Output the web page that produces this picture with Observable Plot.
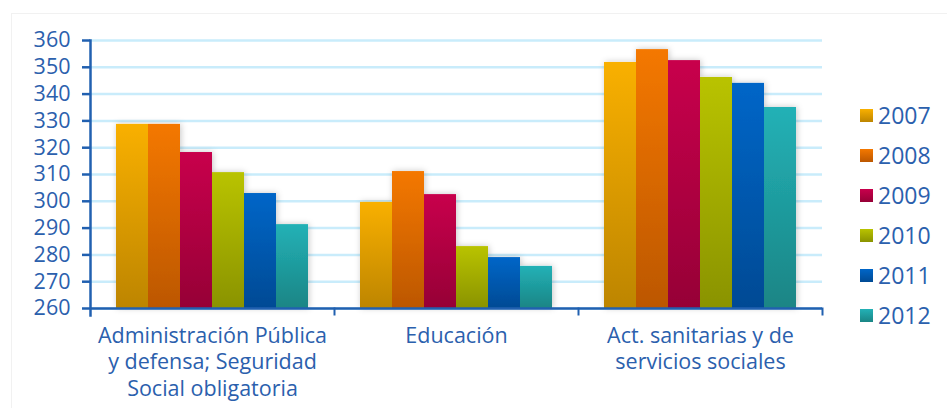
<!DOCTYPE html>
<html>
<head>
<meta charset="utf-8">
<script src="https://cdn.jsdelivr.net/npm/d3@7"></script>
<script src="https://cdn.jsdelivr.net/npm/@observablehq/plot@0.6"></script>
<style>
  html, body { margin: 0; padding: 0; background: #fff; }
  #wrap { position: relative; width: 947px; height: 408px; overflow: hidden; font-family: 'Open Sans', sans-serif; }
  #panel { position: absolute; left: 11px; top: 13px; width: 960px; height: 420px; border-left: 1px solid #f1f1f1; border-top: 1px solid #f1f1f1; }
  #chart { position: absolute; left: 0; top: 0; }
  #legend { position: absolute; left: 860px; top: 95px; }
  .item { height: 40px; display: flex; align-items: center; font-size: 23px; color: #2b60ad; }
  .sw { width: 13px; height: 13px; margin-right: 5px; }
</style>
</head>
<body>
<div id="wrap">
  <div id="panel"></div>
  <div id="chart"></div>
  <div id="legend"></div>
</div>
<script>
const categories = [
  "Administración Pública\ny defensa; Seguridad\nSocial obligatoria",
  "Educación",
  "Act. sanitarias y de\nservicios sociales"
];
const years = ["2007", "2008", "2009", "2010", "2011", "2012"];
const values2007 = [328.7, 299.6, 351.8];
const values2008 = [328.7, 311.1, 356.6];
const values2009 = [318.2, 302.5, 352.5];
const values2010 = [310.7, 283.1, 346.2];
const values2011 = [302.9, 279.0, 344.0];
const values2012 = [291.3, 275.7, 335.0];
const yTicks = [260, 270, 280, 290, 300, 310, 320, 330, 340, 350, 360];

const colorsTop = ["#f9b000", "#f47800", "#c8004c", "#b9c300", "#0066c8", "#23b1b6"];
const colorsBottom = ["#bd8500", "#bc5700", "#960036", "#8a9300", "#004a94", "#1a8585"];

const series = [values2007, values2008, values2009, values2010, values2011, values2012];
const data = [];
categories.forEach((c, ci) => {
  years.forEach((y, yi) => data.push({category: c, year: y, value: series[yi][ci]}));
});

const axisColor = "#2160b0";
const textColor = "#2b60ad";

const chart = Plot.plot({
  width: 947,
  height: 408,
  marginLeft: 89,
  marginRight: 125,
  marginTop: 40,
  marginBottom: 100,
  style: {fontFamily: "'Open Sans', sans-serif", color: textColor, background: "transparent"},
  fx: {domain: categories, padding: 0, axis: null},
  x: {domain: years, paddingInner: 0, paddingOuter: 0.735, axis: null},
  y: {domain: [260, 360], axis: null},
  color: {type: "ordinal", domain: years, range: years.map(y => `url(#g${y})`)},
  marks: [
    Plot.gridY(yTicks, {stroke: "#c9ecfb", strokeOpacity: 1, strokeWidth: 2.5}),
    Plot.barY(data, {fx: "category", x: "year", y1: 260, y2: "value", fill: "year"}),
    Plot.ruleY([260], {stroke: axisColor, strokeWidth: 2.5}),
    Plot.frame({anchor: "left", facetAnchor: "left", stroke: axisColor, strokeWidth: 2.5, insetBottom: -7}),
    Plot.frame({anchor: "right", stroke: axisColor, strokeWidth: 2, insetTop: 268, insetBottom: -6}),
    Plot.axisY(yTicks, {tickSize: 8, tickPadding: 12, fontSize: 21.5, stroke: axisColor, strokeWidth: 2.5, fill: textColor, tickFormat: d => String(d), label: null}),
    Plot.axisFx({anchor: "bottom", tickSize: 0, tickPadding: 16, fontSize: 21.5, lineHeight: 1.22, fill: textColor, label: null})
  ]
});

// gradient and shadow definitions
const ns = "http://www.w3.org/2000/svg";
const defs = document.createElementNS(ns, "defs");
years.forEach((y, i) => {
  const g = document.createElementNS(ns, "linearGradient");
  g.setAttribute("id", "g" + y);
  g.setAttribute("x1", "0"); g.setAttribute("y1", "0");
  g.setAttribute("x2", "0"); g.setAttribute("y2", "1");
  const s1 = document.createElementNS(ns, "stop");
  s1.setAttribute("offset", "0"); s1.setAttribute("stop-color", colorsTop[i]);
  const s2 = document.createElementNS(ns, "stop");
  s2.setAttribute("offset", "1"); s2.setAttribute("stop-color", colorsBottom[i]);
  g.appendChild(s1); g.appendChild(s2);
  defs.appendChild(g);
});
const f = document.createElementNS(ns, "filter");
f.setAttribute("id", "shadow");
f.setAttribute("x", "-20%"); f.setAttribute("y", "-20%");
f.setAttribute("width", "140%"); f.setAttribute("height", "140%");
const ds = document.createElementNS(ns, "feDropShadow");
ds.setAttribute("dx", "1"); ds.setAttribute("dy", "0");
ds.setAttribute("stdDeviation", "3");
ds.setAttribute("flood-color", "#000"); ds.setAttribute("flood-opacity", "0.22");
f.appendChild(ds);
defs.appendChild(f);
chart.insertBefore(defs, chart.firstChild);
chart.querySelectorAll('g[aria-label="bar"]').forEach(g => g.setAttribute("filter", "url(#shadow)"));

document.getElementById("chart").appendChild(chart);

const legend = document.getElementById("legend");
years.forEach((y, i) => {
  const it = document.createElement("div");
  it.className = "item";
  const sw = document.createElement("div");
  sw.className = "sw";
  sw.style.background = `linear-gradient(${colorsTop[i]}, ${colorsBottom[i]})`;
  const t = document.createElement("span");
  t.textContent = y;
  it.appendChild(sw); it.appendChild(t);
  legend.appendChild(it);
});
</script>
</body>
</html>
